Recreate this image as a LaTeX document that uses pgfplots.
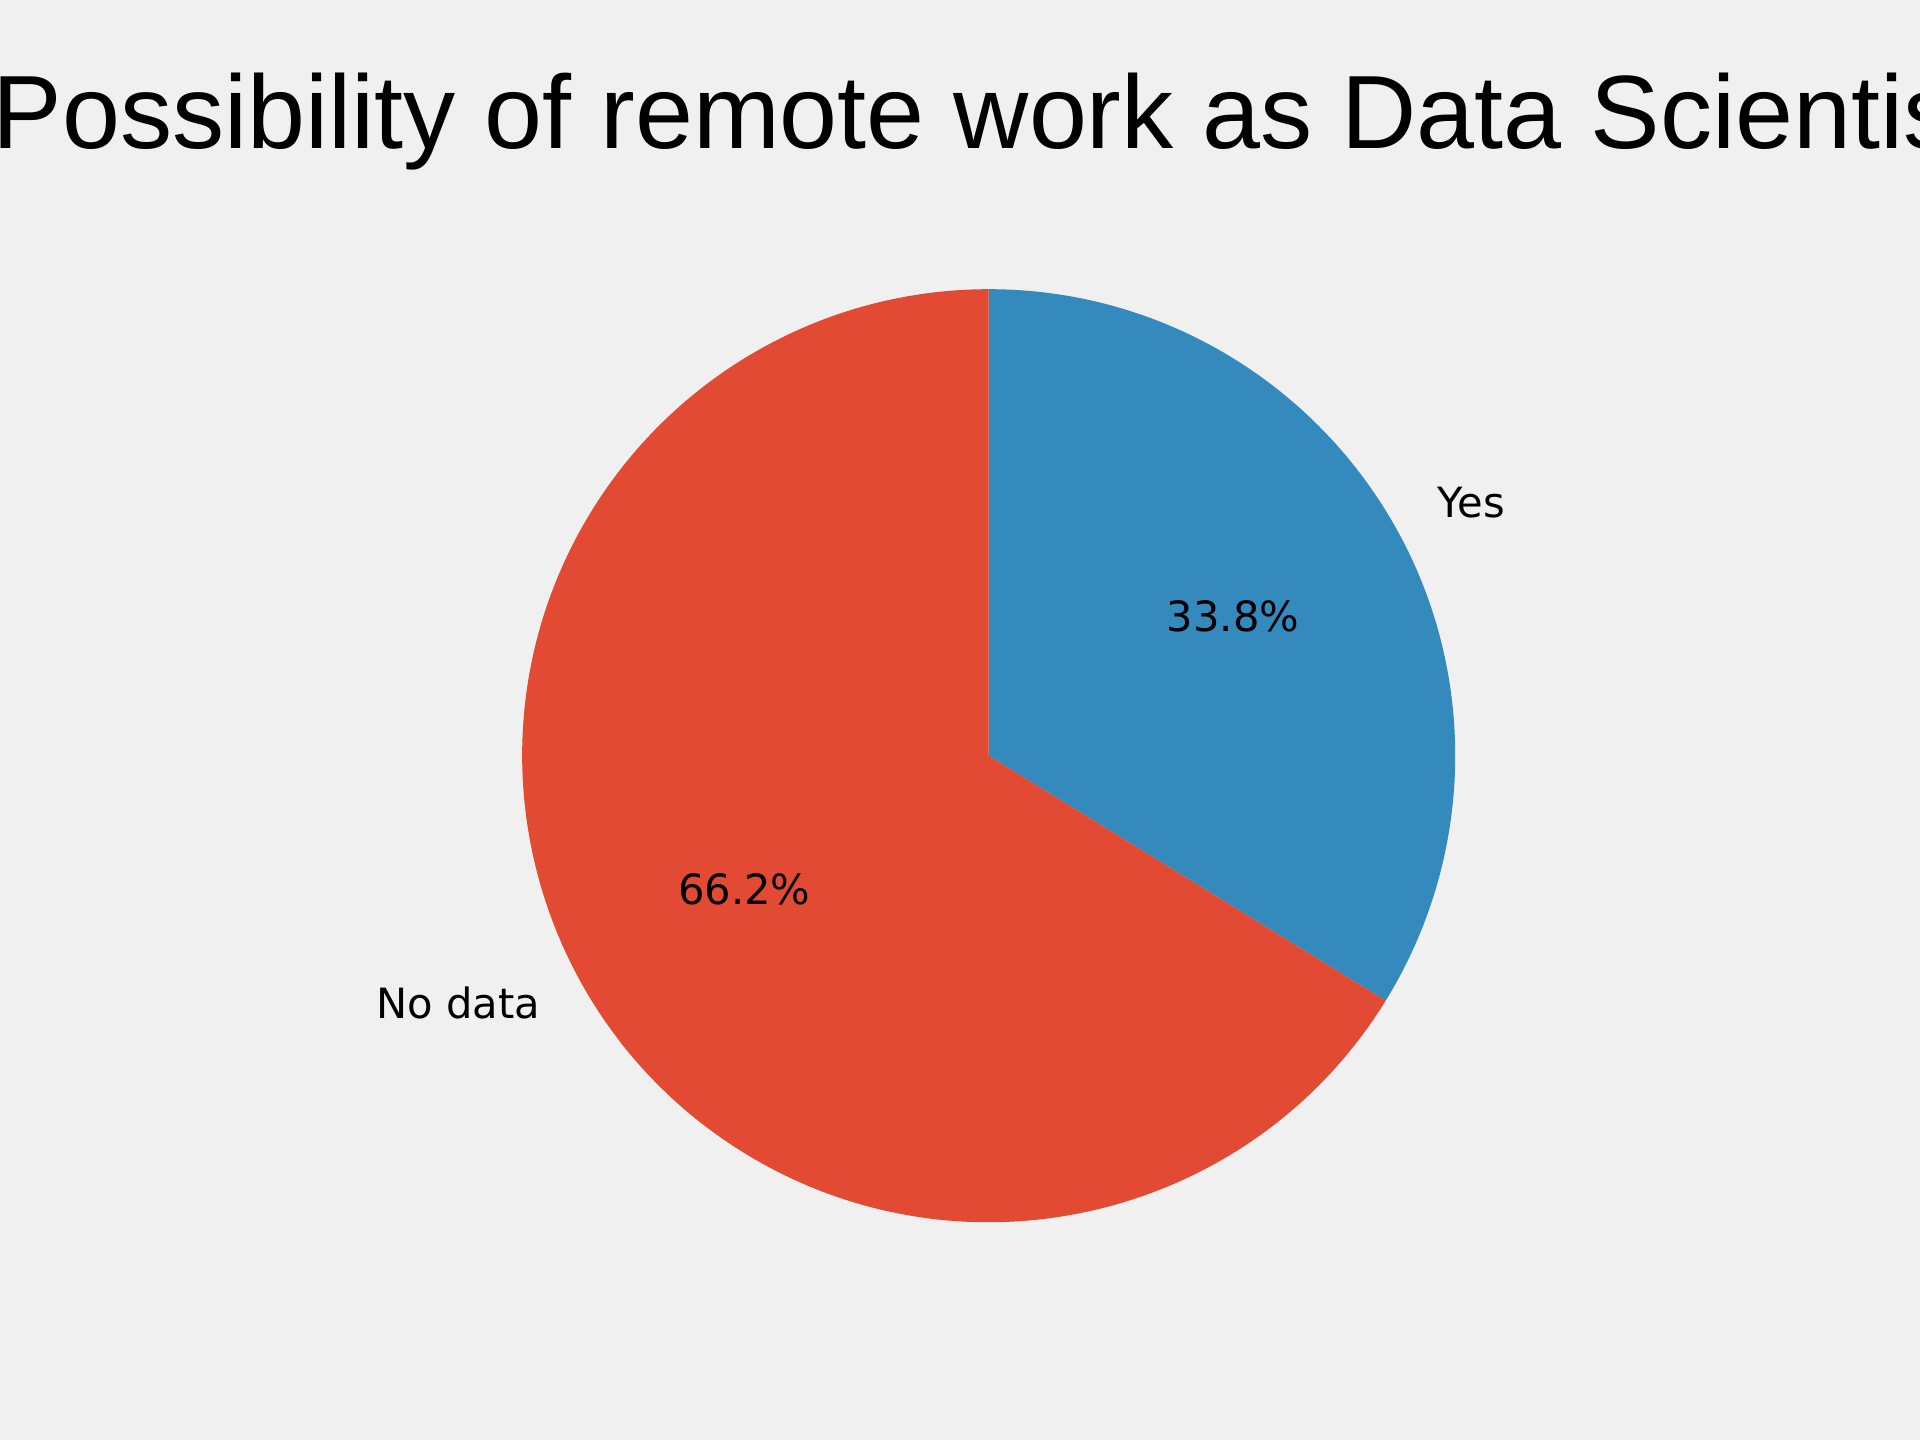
\documentclass[border=0pt]{standalone}
\usepackage{pgfplots}
\pgfplotsset{compat=1.18}
\usepackage{fontspec}
\setmainfont{DejaVu Sans}
\newfontfamily\titlefont{Liberation Sans}
\definecolor{bgc}{HTML}{F0F0F0}
\definecolor{cyes}{HTML}{348ABD}
\definecolor{cno}{HTML}{E24A33}
% data (percent)
\def\valYes{33.8}
\def\valNo{66.2}
\pgfmathsetmacro{\aStart}{90}
\pgfmathsetmacro{\aMid}{90-3.6*\valYes}
\pgfmathsetmacro{\aEnd}{\aMid-3.6*\valNo}
\pgfmathsetmacro{\mYes}{90-1.8*\valYes}
\pgfmathsetmacro{\mNo}{\aMid-1.8*\valNo}
\begin{document}
\begin{tikzpicture}
\useasboundingbox (0,0) rectangle (19.2,14.4);
\fill[bgc] (0,0) rectangle (19.2,14.4);
\begin{scope}
\clip (0,0) rectangle (19.2,14.4);
\node[anchor=base, inner sep=0pt, font=\titlefont\fontsize{29.65}{35}\selectfont] at (9.887,12.917) {Possibility of remote work as Data Scientist};
\begin{axis}[
  hide axis,
  x=4.665cm, y=4.665cm,
  xmin=-1.3, xmax=1.3, ymin=-1.3, ymax=1.3,
  anchor=origin, at={(9.887cm,6.843cm)},
  clip=false,
]
\addplot[draw=none] coordinates {(0,0)};
\fill[cyes] (axis cs:0,0) -- (axis cs:{cos(\aStart)},{sin(\aStart)}) arc[start angle=\aStart, end angle=\aMid, radius=4.665cm] -- cycle;
\fill[cno] (axis cs:0,0) -- (axis cs:{cos(\aMid)},{sin(\aMid)}) arc[start angle=\aMid, end angle=\aEnd, radius=4.665cm] -- cycle;
\begin{scope}[every node/.style={inner sep=0pt, yshift=0.03cm, font=\fontsize{11.85}{14}\selectfont}]
\node[anchor=west] at (axis cs:{1.1*cos(\mYes)},{1.1*sin(\mYes)}) {Yes};
\node[anchor=east] at (axis cs:{1.1*cos(\mNo)},{1.1*sin(\mNo)}) {No data};
\node[anchor=center] at (axis cs:{0.6*cos(\mYes)},{0.6*sin(\mYes)}) {33.8\%};
\node[anchor=center] at (axis cs:{0.6*cos(\mNo)},{0.6*sin(\mNo)}) {66.2\%};
\end{scope}
\end{axis}
\end{scope}
\end{tikzpicture}
\end{document}
